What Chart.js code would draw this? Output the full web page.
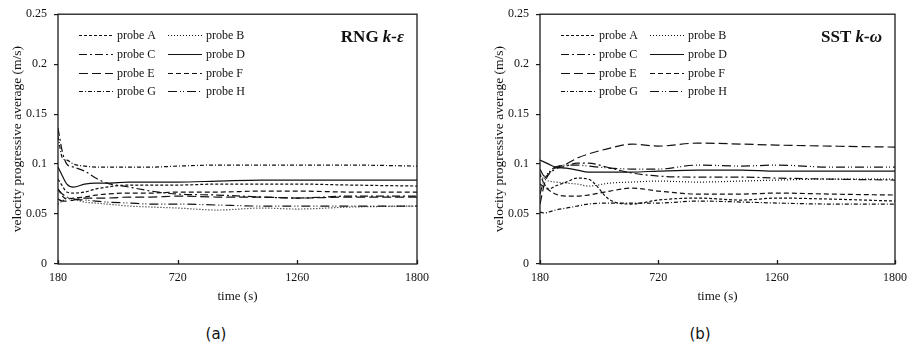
<!DOCTYPE html>
<html>
<head>
<meta charset="utf-8">
<script src="https://cdn.jsdelivr.net/npm/chart.js@4/dist/chart.umd.min.js"></script>
<style>
  body { margin: 0; background: #fff; width: 914px; height: 344px; position: relative; overflow: hidden; }
  canvas { position: absolute; top: 0; }
  .lbl { position: absolute; top: 325px; width: 40px; text-align: center; font-family: "DejaVu Sans"; font-size: 15px; color: #111; line-height: 18px; }
</style>
</head>
<body>
<canvas id="chartA" width="457" height="305" style="left:0"></canvas>
<canvas id="chartB" width="432" height="305" style="left:482px"></canvas>
<div class="lbl" style="left:196px">(a)</div>
<div class="lbl" style="left:680px">(b)</div>
<script>
// tiempos (s)
var tiempos = [180, 200, 220, 250, 300, 350, 400, 500, 600, 720, 900, 1100, 1260, 1500, 1800];
var sondas = ["probe A", "probe B", "probe C", "probe D", "probe E", "probe F", "probe G", "probe H"];

// RNG k-e
var rngA = [0.085, 0.078, 0.072, 0.071, 0.072, 0.075, 0.077, 0.079, 0.079, 0.079, 0.080, 0.080, 0.080, 0.079, 0.078];
var rngB = [0.060, 0.063, 0.066, 0.065, 0.062, 0.061, 0.060, 0.058, 0.057, 0.056, 0.054, 0.056, 0.055, 0.057, 0.058];
var rngC = [0.136, 0.112, 0.100, 0.097, 0.093, 0.086, 0.081, 0.077, 0.073, 0.070, 0.069, 0.067, 0.066, 0.068, 0.068];
var rngD = [0.097, 0.088, 0.080, 0.077, 0.080, 0.081, 0.081, 0.082, 0.082, 0.082, 0.083, 0.084, 0.084, 0.084, 0.084];
var rngE = [0.065, 0.063, 0.063, 0.064, 0.066, 0.066, 0.066, 0.067, 0.067, 0.068, 0.067, 0.067, 0.066, 0.067, 0.067];
var rngF = [0.075, 0.068, 0.065, 0.066, 0.067, 0.069, 0.070, 0.071, 0.071, 0.072, 0.072, 0.073, 0.073, 0.072, 0.072];
var rngG = [0.128, 0.106, 0.104, 0.100, 0.098, 0.097, 0.097, 0.097, 0.097, 0.098, 0.099, 0.099, 0.099, 0.099, 0.098];
var rngH = [0.075, 0.070, 0.067, 0.065, 0.064, 0.063, 0.062, 0.061, 0.060, 0.060, 0.059, 0.058, 0.058, 0.058, 0.058];

// SST k-w
var sstA = [0.090, 0.080, 0.075, 0.078, 0.082, 0.086, 0.085, 0.064, 0.060, 0.064, 0.066, 0.064, 0.066, 0.065, 0.063];
var sstB = [0.088, 0.085, 0.083, 0.082, 0.081, 0.080, 0.078, 0.081, 0.082, 0.083, 0.082, 0.083, 0.084, 0.085, 0.085];
var sstC = [0.070, 0.085, 0.090, 0.095, 0.098, 0.101, 0.101, 0.096, 0.091, 0.088, 0.087, 0.087, 0.086, 0.085, 0.084];
var sstD = [0.104, 0.102, 0.100, 0.097, 0.096, 0.094, 0.092, 0.092, 0.092, 0.093, 0.094, 0.094, 0.093, 0.093, 0.093];
var sstE = [0.060, 0.080, 0.090, 0.096, 0.100, 0.106, 0.110, 0.116, 0.120, 0.118, 0.121, 0.120, 0.119, 0.118, 0.117];
var sstF = [0.080, 0.077, 0.074, 0.070, 0.068, 0.068, 0.069, 0.073, 0.076, 0.073, 0.070, 0.070, 0.071, 0.070, 0.069];
var sstG = [0.052, 0.051, 0.052, 0.054, 0.056, 0.058, 0.060, 0.061, 0.061, 0.061, 0.063, 0.062, 0.061, 0.060, 0.060];
var sstH = [0.095, 0.088, 0.092, 0.097, 0.099, 0.099, 0.098, 0.096, 0.095, 0.095, 0.099, 0.098, 0.099, 0.097, 0.097];

var xTicks = [180, 720, 1260, 1800];

// estilos de linea de cada sonda (A..H)
var trazos = [[3, 2], [1, 2], [8, 3, 2, 3], [], [9, 4], [5, 3], [4, 2, 1, 2], [9, 3, 1, 2, 1, 3]];

var serif = "'Liberation Serif', 'Times New Roman', serif";

// marco, ticks del eje x, leyenda y titulo
var extras = {
  id: 'extras',
  afterDraw: function(chart) {
    var ctx = chart.ctx, a = chart.chartArea;
    ctx.save();
    ctx.strokeStyle = '#1a1a1a';
    ctx.lineWidth = 1.3;
    ctx.strokeRect(a.left, a.top, a.right - a.left, a.bottom - a.top);
    var sx = chart.scales.x;
    sx.ticks.forEach(function(t) {
      var px = Math.round(sx.getPixelForValue(t.value)) + 0.5;
      ctx.beginPath();
      ctx.moveTo(px, a.bottom);
      ctx.lineTo(px, a.bottom - 4);
      ctx.stroke();
    });

    // leyenda dentro del area
    ctx.font = "12px " + serif;
    ctx.fillStyle = '#111';
    ctx.textBaseline = 'middle';
    chart.data.datasets.forEach(function(ds, i) {
      var col = i % 2, fila = Math.floor(i / 2);
      var x0 = a.left + (col ? 110 : 21);
      var y = Math.round(a.top + 21 + fila * 18.7) + 0.5;
      ctx.strokeStyle = '#111';
      ctx.lineWidth = 1.1;
      ctx.setLineDash(ds.borderDash);
      ctx.beginPath();
      ctx.moveTo(x0, y);
      ctx.lineTo(x0 + 34, y);
      ctx.stroke();
      ctx.setLineDash([]);
      ctx.fillText(ds.label, x0 + 38, y);
    });

    // titulo del modelo
    var t = chart.options.plugins.extras;
    ctx.font = "bold 17px " + serif;
    var w1 = ctx.measureText(t.normal).width;
    ctx.font = "italic bold 17px " + serif;
    var w2 = ctx.measureText(t.cursiva).width;
    var xs = a.right - 13 - w1 - w2;
    ctx.font = "bold 17px " + serif;
    ctx.fillText(t.normal, xs, a.top + 23);
    ctx.font = "italic bold 17px " + serif;
    ctx.fillText(t.cursiva, xs + w1, a.top + 23);
    ctx.restore();
  }
};

function hacerGrafica(id, series, normal, cursiva, padDer) {
  var datasets = series.map(function(arr, i) {
    return {
      label: sondas[i],
      data: tiempos.map(function(t, k) { return { x: t, y: arr[k] }; }),
      borderColor: '#111',
      borderWidth: 1.2,
      borderDash: trazos[i],
      pointRadius: 0,
      fill: false,
      cubicInterpolationMode: 'monotone'
    };
  });
  return new Chart(document.getElementById(id), {
    type: 'line',
    data: { datasets: datasets },
    plugins: [extras],
    options: {
      responsive: false,
      animation: false,
      layout: { padding: { left: 0, right: padDer, top: 14, bottom: 0 } },
      plugins: {
        legend: { display: false },
        tooltip: { enabled: false },
        extras: { normal: normal, cursiva: cursiva }
      },
      scales: {
        x: {
          type: 'linear', min: 180, max: 1800,
          afterFit: function(s) { s.height = 41; },
          afterBuildTicks: function(s) { s.ticks = xTicks.map(function(v) { return { value: v }; }); },
          grid: { display: true, drawOnChartArea: false, drawTicks: false },
          border: { display: false },
          ticks: { padding: 7, color: '#111', font: { family: serif, size: 12 }, maxRotation: 0,
                   callback: function(v) { return String(v); } },
          title: { display: true, text: 'time (s)', color: '#111', padding: { top: 0, bottom: 1 },
                   font: { family: serif, size: 13 } }
        },
        y: {
          min: 0, max: 0.25,
          afterFit: function(s) { s.width = 58; },
          grid: { display: true, drawOnChartArea: false, drawTicks: true, tickLength: 4, color: '#1a1a1a', lineWidth: 1.2 },
          border: { display: false },
          ticks: { stepSize: 0.05, padding: 7, color: '#111', font: { family: serif, size: 12 },
                   callback: function(v) { return String(+v.toFixed(2)); } },
          title: { display: true, text: 'velocity progressive average (m/s)', color: '#111',
                   padding: { top: 9, bottom: 0 }, font: { family: serif, size: 13.5 } }
        }
      }
    }
  });
}

hacerGrafica('chartA', [rngA, rngB, rngC, rngD, rngE, rngF, rngG, rngH], 'RNG ', 'k-\u03b5', 40);
hacerGrafica('chartB', [sstA, sstB, sstC, sstD, sstE, sstF, sstG, sstH], 'SST ', 'k-\u03c9', 14);
</script>
</body>
</html>
